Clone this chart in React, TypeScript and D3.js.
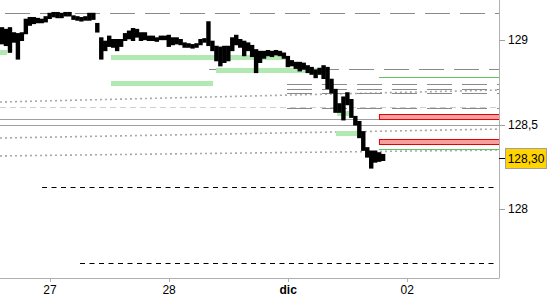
import React from "react";
import * as d3 from "d3";

const dayTicks = [0, 1, 2, 3];
const dayLabels = ["27", "28", "dic", "02"];
const priceTicks = [128, 128.5, 129];
const priceTickLabels = ["128", "128,5", "129"];
const lastPrice = 128.3;
const lastPriceLabel = "128,30";

const barStart = -0.403;
const barStep = 1 / 30;
const barHigh = [
  129.07, 129.06, 129.07, 129.04, 129.035, 129.04, 129.12, 129.13, 129.13, 129.125,
  129.12, 129.135, 129.155, 129.16, 129.16, 129.155, 129.16, 129.16, 129.14, 129.135,
  129.13, 129.135, 129.155, 129.155, 129.095, 129.01, 128.99, 129.02, 129.0, 129.0,
  129.0, 129.035, 129.05, 129.065, 129.06, 129.04, 129.04, 129.02, 129.02, 129.01,
  129.02, 129.02, 129.025, 129.01, 129.01, 129.0, 128.98, 128.975, 128.97, 128.975,
  129.0, 129.005, 129.105, 128.99, 128.96, 128.955, 128.96, 128.96, 129.01, 129.025,
  129.0, 128.99, 128.98, 128.965, 128.94, 128.93, 128.93, 128.935, 128.93, 128.935,
  128.93, 128.92, 128.9, 128.875, 128.865, 128.865, 128.86, 128.845, 128.835, 128.82,
  128.83, 128.845, 128.835, 128.765, 128.705, 128.62, 128.66, 128.685, 128.645, 128.545,
  128.515, 128.455, 128.36, 128.34, 128.34, 128.33, 128.32,
];
const barLow = [
  128.98, 128.97, 128.93, 128.99, 128.89, 129.0, 129.04, 129.09, 129.1, 129.105,
  129.105, 129.11, 129.13, 129.14, 129.135, 129.135, 129.15, 129.15, 129.125, 129.12,
  129.12, 129.13, 129.12, 129.125, 129.05, 128.89, 128.94, 128.965, 128.96, 128.94,
  128.965, 129.0, 129.01, 129.0, 129.02, 129.0, 129.005, 129.0, 129.0, 129.005,
  129.005, 129.005, 128.965, 128.975, 128.98, 128.975, 128.96, 128.96, 128.955, 128.96,
  128.975, 128.99, 128.97, 128.94, 128.88, 128.85, 128.87, 128.88, 128.94, 128.975,
  128.96, 128.91, 128.94, 128.905, 128.81, 128.87, 128.895, 128.91, 128.905, 128.915,
  128.91, 128.895, 128.845, 128.85, 128.835, 128.82, 128.83, 128.81, 128.8, 128.78,
  128.8, 128.775, 128.715, 128.69, 128.575, 128.575, 128.53, 128.62, 128.545, 128.5,
  128.425, 128.35, 128.31, 128.245, 128.28, 128.285, 128.29,
];

// [price, tStart, tEnd]
const longDashLevels = [
  [129.16, -0.378, 3.77],
  [128.828, 1.335, 3.77],
  [128.739, 1.99, 3.77],
  [128.708, 1.99, 3.77],
  [128.688, 1.99, 3.77],
  [128.598, 1.99, 3.77],
];
const greenZones = [
  [128.899, 0.512, 1.973],
  [128.822, 1.394, 2.292],
  [128.746, 0.512, 1.369],
  [128.568, 2.41, 2.536],
  [128.447, 2.401, 2.578],
  [128.929, -0.42, -0.36],
  [129.062, -0.42, -0.395],
];
const greenLines = [
  [128.781, 2.762, 3.77],
  [128.533, 2.762, 3.77],
  [128.355, 2.762, 3.77],
];
// [top, bottom, tStart, tEnd]
const redZones = [
  [128.562, 128.533, 2.762, 3.77],
  [128.417, 128.39, 2.762, 3.77],
];
const grayLines = [
  [128.531, -0.42, 3.77],
  [128.5, -0.42, 3.77],
];
const lightDashLevels = [[128.604, -0.42, 3.77]];
// [priceStart, priceEnd]
const dottedLines = [
  [128.633, 128.704],
  [128.42, 128.473],
  [128.314, 128.349],
];
const blackDashLevels = [
  [128.13, -0.067, 3.753],
  [127.68, 0.252, 3.736],
];

const FONT = "Liberation Sans, Arial, sans-serif";

export default function App() {
  const W = 550;
  const H = 300;
  const plotR = 499;
  const plotB = 278;
  const x = d3.scaleLinear().domain([-0.42, 3.77]).range([0, plotR]);
  const y = d3.scaleLinear().domain([128, 129]).range([209, 40]);

  const hline = (p: number, t0: number, t1: number) => ({
    x1: x(t0),
    x2: x(t1),
    y1: Math.round(y(p)) + 0.5,
    y2: Math.round(y(p)) + 0.5,
  });

  return (
    <svg
      width={W}
      height={H}
      style={{ position: "absolute", left: 0, top: 0, background: "#fff" }}
      fontFamily={FONT}
    >
      <defs>
        <clipPath id="plot">
          <rect x={0} y={0} width={plotR} height={plotB} />
        </clipPath>
      </defs>
      <g clipPath="url(#plot)">
        {dottedLines.map((d, i) => (
          <line
            key={"dot" + i}
            x1={x(-0.42)}
            x2={x(3.77)}
            y1={y(d[0])}
            y2={y(d[1])}
            stroke="#a8a8a8"
            strokeWidth={1.6}
            strokeDasharray="2,3"
          />
        ))}
        {lightDashLevels.map((d, i) => (
          <line key={"ld" + i} {...hline(d[0], d[1], d[2])} stroke="#cfcfcf" strokeWidth={1} strokeDasharray="6,4" />
        ))}
        {grayLines.map((d, i) => (
          <line key={"gl" + i} {...hline(d[0], d[1], d[2])} stroke="#a0a0a0" strokeWidth={1} />
        ))}
        {longDashLevels.map((d, i) => (
          <line key={"ldl" + i} {...hline(d[0], d[1], d[2])} stroke="#8a8a8a" strokeWidth={1} strokeDasharray="25,10" />
        ))}
        {blackDashLevels.map((d, i) => (
          <line key={"bd" + i} {...hline(d[0], d[1], d[2])} stroke="#000" strokeWidth={1} strokeDasharray="5,4.5" />
        ))}
        {greenZones.map((d, i) => (
          <rect
            key={"gz" + i}
            x={x(d[1])}
            y={Math.round(y(d[0])) - 2}
            width={x(d[2]) - x(d[1])}
            height={5}
            fill="#b2e8b2"
          />
        ))}
        {greenLines.map((d, i) => (
          <line key={"gli" + i} {...hline(d[0], d[1], d[2])} stroke="#5fc45f" strokeWidth={1} />
        ))}
        {redZones.map((d, i) => (
          <rect
            key={"rz" + i}
            x={x(d[2]) + 0.5}
            y={Math.round(y(d[0])) + 0.5}
            width={x(d[3]) - x(d[2]) + 2}
            height={Math.round(y(d[1]) - y(d[0]))}
            fill="#f4a0a0"
            stroke="#e80000"
            strokeWidth={1}
          />
        ))}
        {barHigh.map((hi, i) => {
          const t = barStart + i * barStep;
          const cx = x(t);
          const yt = y(hi) - 1;
          const yb = y(barLow[i]) + 1;
          const h = Math.max(4.5, yb - yt);
          return <rect key={"b" + i} x={cx - 2.2} y={yt} width={4.4} height={h} fill="#000" />;
        })}
      </g>

      {/* axes */}
      <line x1={0} x2={plotR} y1={plotB + 0.5} y2={plotB + 0.5} stroke="#b0b0b0" />
      <line x1={plotR + 0.5} x2={plotR + 0.5} y1={0} y2={plotB + 0.5} stroke="#b0b0b0" />
      {dayTicks.map((t, i) => (
        <g key={"xt" + i}>
          <line x1={Math.round(x(t)) + 0.5} x2={Math.round(x(t)) + 0.5} y1={plotB} y2={plotB + 4} stroke="#b0b0b0" />
          <text
            x={x(t)}
            y={294}
            textAnchor="middle"
            fontSize={12}
            fontWeight={dayLabels[i] === "dic" ? "bold" : "normal"}
            fill="#000"
          >
            {dayLabels[i]}
          </text>
        </g>
      ))}
      {priceTicks.map((p, i) => (
        <g key={"yt" + i}>
          <line x1={plotR} x2={plotR + 6} y1={Math.round(y(p)) + 0.5} y2={Math.round(y(p)) + 0.5} stroke="#a0a0a0" />
          <text x={508} y={y(p)} dy="0.35em" fontSize={12} fill="#000">
            {priceTickLabels[i]}
          </text>
        </g>
      ))}
      <line x1={plotR} x2={plotR + 6} y1={Math.round(y(lastPrice)) + 0.5} y2={Math.round(y(lastPrice)) + 0.5} stroke="#000" />
      <rect
        x={505.5}
        y={Math.round(y(lastPrice)) - 9.5}
        width={41}
        height={20}
        fill="#ffd400"
        stroke="#a0a0a0"
      />
      <text x={526} y={y(lastPrice)} dy="0.38em" textAnchor="middle" fontSize={12} fill="#000">
        {lastPriceLabel}
      </text>
    </svg>
  );
}
